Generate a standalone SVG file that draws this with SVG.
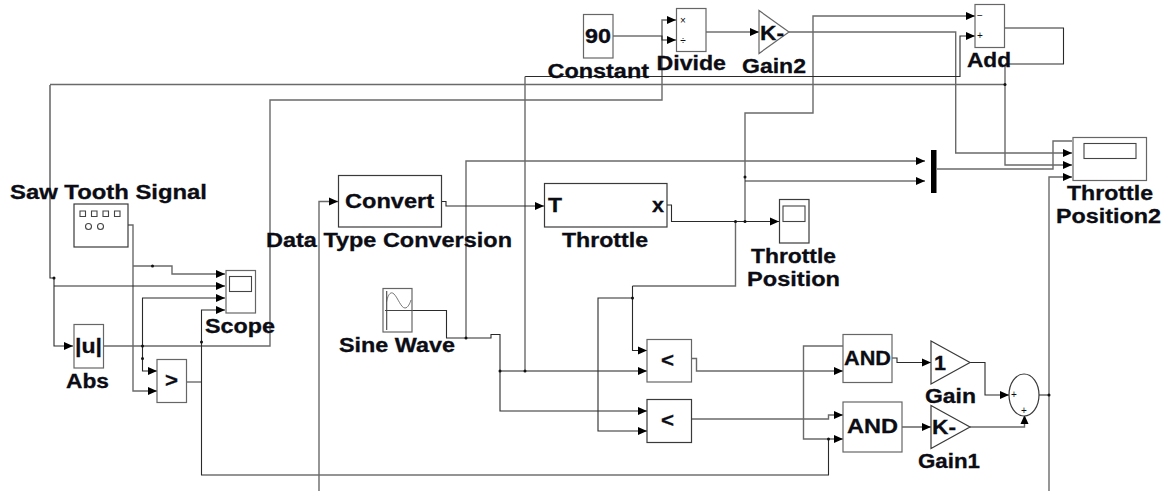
<svg xmlns="http://www.w3.org/2000/svg" width="1170" height="491" viewBox="0 0 1170 491">
<style>
text{font-family:"Liberation Sans",Arial,sans-serif;font-weight:700;fill:#0c0c14;stroke:#0c0c14;stroke-width:.3;font-size:20px}
.b{fill:#fff;stroke:#3a3a3a;stroke-width:1.2}
.g{fill:#fff;stroke:#666;stroke-width:1.2}
.i{fill:none;stroke:#444;stroke-width:1.1}
.w{fill:none;stroke:#555;stroke-width:.8}
text.s{font-size:10px;font-weight:400;text-anchor:middle;stroke:none}
.c path{fill:none;stroke:#2a2a2a;stroke-width:1.1}
.c path.a{marker-end:url(#arrow)}
.c path.m{stroke:#6a6a6a;stroke-width:1.4}
.c circle{fill:#111}
</style>
<defs>
<marker id="arrow" markerUnits="userSpaceOnUse" markerWidth="10" markerHeight="9" refX="9" refY="4.500" orient="auto">
<path d="M0 0.500L9 4.500L0 8.500Z" fill="#000"/>
</marker>
</defs>
<g id="connectors" class="c">
<path class="a m" d="M128 225H133V391H157"/>
<path class="a m" d="M133 266H172V274H225"/>
<path d="M50 85V278H54"/>
<path class="a" d="M54 286H225"/>
<path class="a" d="M54 278V346H73"/>
<path class="m" d="M50 84.500H1005"/>
<path class="a m" d="M103 346H270V100H662V20H676"/>
<path class="a" d="M142.500 346V298H225"/>
<path class="a" d="M142.500 346V371H157"/>
<path class="a" d="M201.500 342V310H225"/>
<path class="m" d="M187 382H201.500"/>
<path d="M201.500 342V475H828.500V439"/>
<path class="a" d="M613 36H662V40H676"/>
<path class="a" d="M706 32H759"/>
<path class="a m" d="M789 32H955.700V153H1072"/>
<path class="a m" d="M745 221.500V113H813V16H975"/>
<path class="a" d="M745 181H925"/>
<path class="a m" d="M466 338V161H925"/>
<path class="m" d="M937 169H1053V141H1072"/>
<path class="a" d="M525 76.500H960V36H975"/>
<path class="m" d="M525 76.500V371"/>
<path d="M1004 28H1063.500V64H1005"/>
<path class="a m" d="M1005 64V165H1072"/>
<path class="a m" d="M1039 395H1049V177H1072"/>
<path class="m" d="M1049 395V491"/>
<path class="a m" d="M319 491V201.500H338"/>
<path class="a" d="M441 201.500H446V206H544"/>
<path d="M412 310.500H446.500V338H491V334.500H500V371"/>
<path class="a m" d="M500 371H647"/>
<path class="a" d="M500 371V411H647"/>
<path class="a" d="M667 205H671.500V221.500H779"/>
<path class="m" d="M735.500 221.500V286H632.500"/>
<path class="a" d="M632.500 286V350.500H647"/>
<path class="a" d="M632.500 298H598V431H647"/>
<path class="a m" d="M691.500 358.500H696.500V371H843"/>
<path class="a m" d="M691.500 419H828.500V415H843"/>
<path class="a m" d="M843 346H803.500V439H843"/>
<path class="a" d="M892 358H897V362.500H931"/>
<path class="a" d="M902 427H931"/>
<path class="a" d="M970 362.500H985V395H1009"/>
<path class="a m" d="M970 427H1024.500V415"/>
<circle cx="152.500" cy="266" r="1.500"/><circle cx="54" cy="278" r="1.500"/>
<circle cx="142.500" cy="346" r="1.500"/><circle cx="142.500" cy="358.500" r="1.500"/>
<circle cx="201.500" cy="342" r="1.500"/><circle cx="828.500" cy="439" r="1.500"/>
<circle cx="1005" cy="84.500" r="1.500"/><circle cx="745" cy="177" r="1.500"/>
<circle cx="735.500" cy="221.500" r="1.500"/><circle cx="745" cy="221.500" r="1.500"/>
<circle cx="466" cy="338" r="1.500"/><circle cx="500" cy="371" r="1.500"/><circle cx="525" cy="371" r="1.500"/>
<circle cx="632.500" cy="298" r="1.500"/><circle cx="1049" cy="395" r="1.500"/>
</g>
<g id="saw-tooth">
<rect class="b" x="74" y="204" width="54" height="43"/>
<path class="i" d="M80 211h5.500v5.500h-5.500zM91.500 211h5.500v5.500h-5.500zM103 211h5.500v5.500h-5.500zM114.500 211h5.500v5.500h-5.500z"/>
<circle class="i" cx="88.500" cy="226.500" r="3"/><circle class="i" cx="100.500" cy="226.500" r="3"/>
<text x="10" y="199" textLength="197" lengthAdjust="spacingAndGlyphs">Saw Tooth Signal</text>
</g>
<g id="scope">
<rect class="g" x="226" y="270.500" width="29.500" height="42.500"/>
<rect class="i" x="229.500" y="276.500" width="22" height="15"/>
<text x="205" y="333" textLength="70" lengthAdjust="spacingAndGlyphs">Scope</text>
</g>
<g id="abs">
<rect class="g" x="74" y="324.500" width="29.500" height="43.500"/>
<text x="75" y="353" textLength="27" lengthAdjust="spacingAndGlyphs">|u|</text>
<text x="66" y="388" textLength="43" lengthAdjust="spacingAndGlyphs">Abs</text>
</g>
<g id="relational-gt">
<rect class="g" x="157" y="359.500" width="29.500" height="43"/>
<text x="165" y="387" textLength="13" lengthAdjust="spacingAndGlyphs">&gt;</text>
</g>
<g id="data-type-conversion">
<rect class="b" x="338.500" y="175.500" width="103" height="51.500"/>
<text x="345" y="208" textLength="89" lengthAdjust="spacingAndGlyphs">Convert</text>
<text x="266" y="247" textLength="246" lengthAdjust="spacingAndGlyphs">Data Type Conversion</text>
</g>
<g id="throttle">
<rect class="b" x="544.500" y="183.500" width="122.500" height="43.500"/>
<text x="548" y="212" textLength="14" lengthAdjust="spacingAndGlyphs">T</text>
<text x="652" y="212" textLength="12" lengthAdjust="spacingAndGlyphs">x</text>
<text x="562" y="247" textLength="86" lengthAdjust="spacingAndGlyphs">Throttle</text>
</g>
<g id="sine-wave">
<rect class="g" x="383" y="288.500" width="29" height="43.500"/>
<path class="i" d="M386.700 291V330M385 310.500H412"/>
<path class="w" d="M386.500 302C388 294 391 291 394 294C398 298 401 308 405 308C408 308 410 303 411 300"/>
<text x="339" y="351.500" textLength="116" lengthAdjust="spacingAndGlyphs">Sine Wave</text>
</g>
<g id="constant">
<rect class="g" x="583.500" y="14.500" width="29.500" height="43.500"/>
<text x="585" y="43" textLength="26" lengthAdjust="spacingAndGlyphs">90</text>
<text x="547.500" y="78" textLength="101.500" lengthAdjust="spacingAndGlyphs">Constant</text>
</g>
<g id="divide">
<rect class="g" x="676.500" y="8.500" width="29.500" height="43"/>
<text class="s" x="683" y="24">×</text>
<text class="s" x="683" y="44">÷</text>
<text x="656.500" y="70" textLength="69.500" lengthAdjust="spacingAndGlyphs">Divide</text>
</g>
<g id="gain2">
<path class="g" d="M759 10.500L789 32L759 53.500Z"/>
<text x="760" y="40" textLength="24" lengthAdjust="spacingAndGlyphs">K-</text>
<text x="742" y="73" textLength="64" lengthAdjust="spacingAndGlyphs">Gain2</text>
</g>
<g id="add">
<rect class="g" x="975" y="4.500" width="29.500" height="43"/>
<text class="s" x="980" y="19">−</text>
<text class="s" x="980" y="39">+</text>
<text x="967" y="67" textLength="44" lengthAdjust="spacingAndGlyphs">Add</text>
</g>
<g id="mux">
<rect x="931" y="150" width="5.500" height="43" fill="#000"/>
</g>
<g id="throttle-position2">
<rect class="g" x="1073" y="137.500" width="73.500" height="43"/>
<rect class="i" x="1084" y="143.500" width="52" height="15"/>
<text x="1067" y="200" textLength="86" lengthAdjust="spacingAndGlyphs">Throttle</text>
<text x="1056" y="223" textLength="105" lengthAdjust="spacingAndGlyphs">Position2</text>
</g>
<g id="throttle-position">
<rect class="b" x="779.500" y="199.500" width="29.500" height="43.500"/>
<rect class="i" x="783" y="206" width="22" height="15.500"/>
<text x="751" y="262.500" textLength="85" lengthAdjust="spacingAndGlyphs">Throttle</text>
<text x="747" y="286" textLength="93" lengthAdjust="spacingAndGlyphs">Position</text>
</g>
<g id="relational-lt1">
<rect class="g" x="647" y="339.500" width="44.500" height="42.500"/>
<text x="661" y="367" textLength="13" lengthAdjust="spacingAndGlyphs">&lt;</text>
</g>
<g id="relational-lt2">
<rect class="b" x="647" y="399.500" width="44.500" height="43"/>
<text x="661" y="427" textLength="13" lengthAdjust="spacingAndGlyphs">&lt;</text>
</g>
<g id="and1">
<rect class="g" x="843" y="334.500" width="49" height="48"/>
<text x="844" y="365" textLength="47" lengthAdjust="spacingAndGlyphs">AND</text>
</g>
<g id="and2">
<rect class="g" x="843" y="402" width="59" height="50"/>
<text x="847" y="433" textLength="51" lengthAdjust="spacingAndGlyphs">AND</text>
</g>
<g id="gain">
<path class="b" d="M931 341L970 362.500L931 384Z"/>
<text x="934" y="370" textLength="12" lengthAdjust="spacingAndGlyphs">1</text>
<text x="925" y="403" textLength="51" lengthAdjust="spacingAndGlyphs">Gain</text>
</g>
<g id="gain1">
<path class="b" d="M931 405.500L970 427L931 448.500Z"/>
<text x="932" y="434" textLength="24" lengthAdjust="spacingAndGlyphs">K-</text>
<text x="918" y="468" textLength="62" lengthAdjust="spacingAndGlyphs">Gain1</text>
</g>
<g id="sum">
<ellipse class="b" cx="1024" cy="395" rx="15" ry="21"/>
<text class="s" x="1014" y="398">+</text>
<text class="s" x="1024" y="414">+</text>
</g>
</svg>
